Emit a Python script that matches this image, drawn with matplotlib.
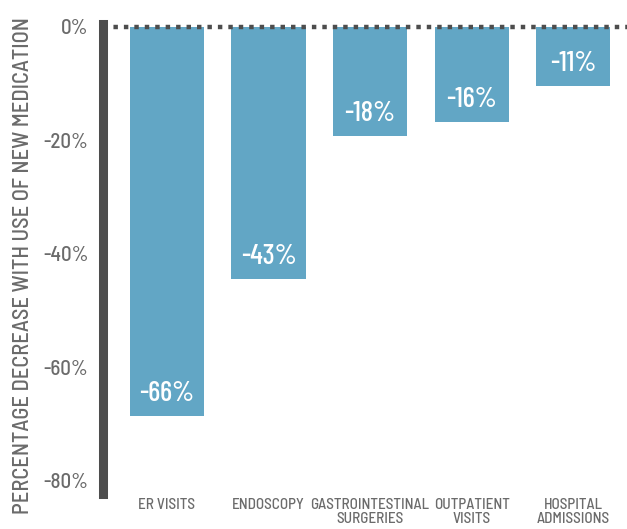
import numpy as np
import matplotlib.pyplot as plt

plt.rcParams['font.family'] = ['Barlow Semi Condensed', 'DejaVu Sans']

categories = ['ER VISITS', 'ENDOSCOPY', 'GASTROINTESTINAL\nSURGERIES',
              'OUTPATIENT\nVISITS', 'HOSPITAL\nADMISSIONS']
values = [-68.6, -44.4, -19.3, -16.8, -10.4]
value_labels = ['-66%', '-43%', '-18%', '-16%', '-11%']
yticks = [0, -20, -40, -60, -80]
ytick_labels = ['0%', '-20%', '-40%', '-60%', '-80%']

bar_color = '#62a6c5'
text_gray = '#6b6b6b'
dark = '#4d4d4d'

fig = plt.figure(figsize=(6.27, 5.29), dpi=100)
ax = fig.add_axes([102.5/627, 35/529, 524.5/627, 470/529])

x = np.arange(len(categories))
ax.bar(x, values, width=0.73, color=bar_color, zorder=2)

for i in range(len(values)):
    ax.annotate(value_labels[i], (x[i], values[i]), xytext=(0, 16),
                textcoords='offset points', ha='center', va='center',
                color='white', fontsize=20.5, weight='medium',
                family=['Barlow Condensed', 'DejaVu Sans'])

ax.axhline(0, color=dark, lw=3.2, linestyle=(0, (1.0, 1.35)),
           dash_capstyle='butt', zorder=3)

ax.set_xlim(-0.635, 4.53)
ax.set_ylim(-82.3, 0.5)

ax.set_yticks(yticks)
ax.set_yticklabels(ytick_labels, fontsize=15, color=text_gray, weight='medium')
ax.set_xticks(x)
ax.set_xticklabels(categories, fontsize=10.9, color=text_gray, weight='medium')
for lab in ax.get_xticklabels():
    lab.set_linespacing(0.95)
ax.tick_params(axis='y', length=0, pad=10)
ax.tick_params(axis='x', length=0, pad=3)

for s in ['top', 'right', 'bottom']:
    ax.spines[s].set_visible(False)
ax.spines['left'].set_color(dark)
ax.spines['left'].set_linewidth(6.5)

fig.text(23/627, 263/529, 'PERCENTAGE DECREASE WITH USE OF NEW MEDICATION',
         rotation=90, ha='center', va='center', fontsize=16.2, color=text_gray,
         weight='medium')

plt.savefig('out.png', dpi=100)
